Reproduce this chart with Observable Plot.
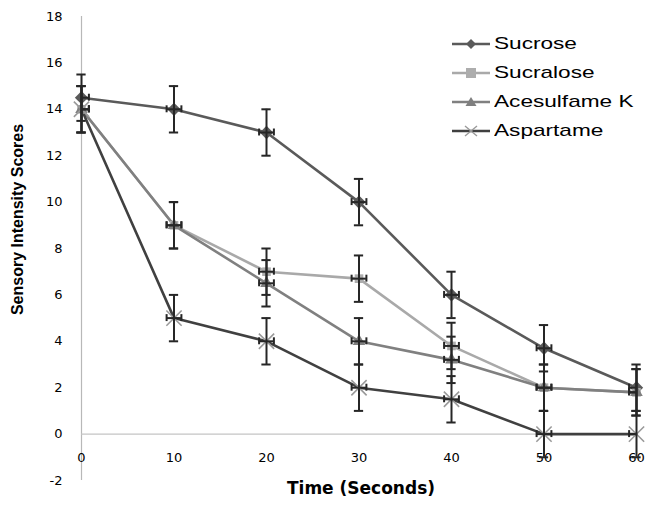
<!DOCTYPE html>
<html>
<head>
<meta charset="utf-8">
<script src="https://cdn.jsdelivr.net/npm/d3@7"></script>
<script src="https://cdn.jsdelivr.net/npm/@observablehq/plot@0.6"></script>
<style>
  html, body { margin: 0; padding: 0; background: #fff; }
  #wrap { position: relative; width: 646px; height: 505px; }
  #legend { position: absolute; left: 452px; top: 29px; font-family: "Liberation Sans", Arial, sans-serif; font-size: 17px; color: #000; }
  .row { height: 29px; display: flex; align-items: center; }
  .row svg { flex: none; }
  .row span { display: inline-block; margin-left: 4px; transform: scaleX(1.33); transform-origin: left center; white-space: nowrap; }
</style>
</head>
<body>
<div id="wrap"><div id="legend"></div></div>
<script>
// ---- data ----
const times = [0, 10, 20, 30, 40, 50, 60];
const seriesNames = ["Sucrose", "Sucralose", "Acesulfame K", "Aspartame"];
const sucrose    = [14.5, 14, 13, 10, 6, 3.7, 2];
const sucralose  = [14, 9, 7, 6.7, 3.8, 2, 1.8];
const acesulfame = [14, 9, 6.5, 4, 3.2, 2, 1.8];
const aspartame  = [14, 5, 4, 2, 1.5, 0, 0];
const sucroseErr    = [1, 1, 1, 1, 1, 1, 1];
const sucraloseErr  = [1, 1, 1, 1, 1, 1, 1];
const acesulfameErr = [1, 1, 1, 1, 1, 1, 1];
const aspartameErr  = [1, 1, 1, 1, 1, 1, 1];
const timeErr = 0.8;
const xTicks = [0, 10, 20, 30, 40, 50, 60];
const yTicks = [-2, 0, 2, 4, 6, 8, 10, 12, 14, 16, 18];

// ---- styles ----
const lineColors = {"Sucrose": "#5a5a5a", "Sucralose": "#a9a9a9", "Acesulfame K": "#808080", "Aspartame": "#404040"};
const markColors = {"Sucrose": "#5a5a5a", "Sucralose": "#adadad", "Acesulfame K": "#7f7f7f", "Aspartame": "#9a9a9a"};
const symbols = {"Sucrose": "diamond2", "Sucralose": "square2", "Acesulfame K": "triangle2", "Aspartame": "times"};

const values = [sucrose, sucralose, acesulfame, aspartame];
const errs = [sucroseErr, sucraloseErr, acesulfameErr, aspartameErr];
const rows = [];
seriesNames.forEach((s, i) => times.forEach((t, j) => rows.push({series: s, t, v: values[i][j], e: errs[i][j]})));

const errColor = "#262626";
const capW = 0.5, capH = 0.15;

const marks = [
  Plot.ruleX([0], {y1: -2, y2: 18, stroke: "#b8b8b8", strokeWidth: 1.2}),
  Plot.ruleY([0], {x1: 0, x2: 60, stroke: "#c4c4c4", strokeWidth: 1.2}),
  Plot.axisY(yTicks, {tickSize: 0, tickPadding: 19, fontSize: 13, fontFamily: "DejaVu Sans", label: null, color: "#000", tickFormat: d => String(d)}),
  Plot.text(xTicks, {x: d => d, y: 0, dy: 24, text: d => String(d), fontSize: 13, fontFamily: "DejaVu Sans", fill: "#000"}),
];
seriesNames.forEach(s => {
  const data = rows.filter(r => r.series === s);
  marks.push(Plot.line(data, {x: "t", y: "v", stroke: lineColors[s], strokeWidth: 2.6}));
});
seriesNames.forEach(s => {
  const data = rows.filter(r => r.series === s);
  if (symbols[s] === "times") {
    marks.push(Plot.dot(data, {x: "t", y: "v", symbol: "times", stroke: markColors[s], strokeWidth: 1.6, r: 7}));
  } else {
    marks.push(Plot.dot(data, {x: "t", y: "v", symbol: symbols[s], fill: markColors[s], r: symbols[s] === "square2" ? 5.5 : 6}));
  }
});
// error bars (vertical and horizontal) with caps
marks.push(
  Plot.ruleX(rows, {x: "t", y1: d => d.v - d.e, y2: d => d.v + d.e, stroke: errColor, strokeWidth: 2}),
  Plot.ruleY(rows, {y: d => d.v - d.e, x1: d => d.t - capW, x2: d => d.t + capW, stroke: errColor, strokeWidth: 2}),
  Plot.ruleY(rows, {y: d => d.v + d.e, x1: d => d.t - capW, x2: d => d.t + capW, stroke: errColor, strokeWidth: 2}),
  Plot.ruleY(rows, {y: "v", x1: d => d.t - timeErr, x2: d => d.t + timeErr, stroke: errColor, strokeWidth: 2, clip: true}),
  Plot.ruleX(rows, {x: d => d.t - timeErr, y1: d => d.v - capH, y2: d => d.v + capH, stroke: errColor, strokeWidth: 2, clip: true}),
  Plot.ruleX(rows, {x: d => d.t + timeErr, y1: d => d.v - capH, y2: d => d.v + capH, stroke: errColor, strokeWidth: 2, clip: true})
);
marks.push(
  Plot.text(["Sensory Intensity Scores"], {frameAnchor: "left", textAnchor: "middle", dx: -64, dy: -29, rotate: -90, text: d => d, fontSize: 16, fontWeight: "bold", fontFamily: "Liberation Sans", fill: "#000"}),
  Plot.text(["Time (Seconds)"], {frameAnchor: "bottom", dy: 13, dx: 2, text: d => d, fontSize: 17, fontWeight: "bold", fontFamily: "DejaVu Sans", fill: "#000"})
);

const chart = Plot.plot({
  width: 646,
  height: 505,
  marginLeft: 81,
  marginRight: 10,
  marginTop: 16,
  marginBottom: 25,
  x: {domain: [0, 60], axis: null},
  y: {domain: [-2, 18], axis: null},
  style: {background: "#fff", overflow: "visible"},
  marks
});
document.getElementById("wrap").prepend(chart);

// ---- legend ----
const legend = document.getElementById("legend");
const symPaths = {
  "Sucrose": c => `<path d="M19 1 L24 6 L19 11 L14 6 Z" fill="${c}"/>`,
  "Sucralose": c => `<rect x="14" y="1" width="10" height="10" fill="${c}"/>`,
  "Acesulfame K": c => `<path d="M19 1 L24.5 10 L13.5 10 Z" fill="${c}"/>`,
  "Aspartame": c => `<path d="M13 1 L25 11 M25 1 L13 11" stroke="${c}" stroke-width="1.4"/>`
};
seriesNames.forEach(s => {
  const row = document.createElement("div");
  row.className = "row";
  row.innerHTML = `<svg width="38" height="12"><line x1="0" y1="6" x2="38" y2="6" stroke="${lineColors[s]}" stroke-width="2.6"/>${symPaths[s](markColors[s])}</svg><span>${s}</span>`;
  legend.appendChild(row);
});
</script>
</body>
</html>
